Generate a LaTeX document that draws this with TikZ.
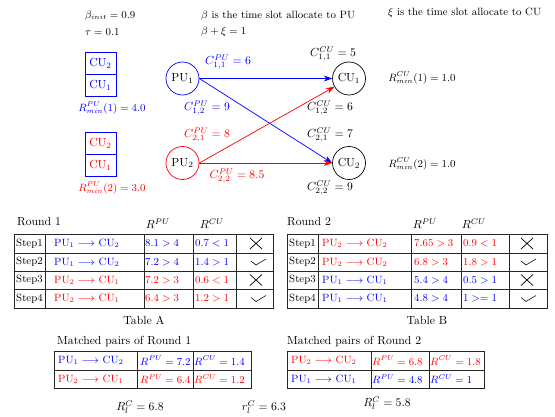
\documentclass[tikz,border=0pt]{standalone}
\usepackage{amsmath,amssymb}
\usetikzlibrary{arrows.meta}
\begin{document}
\begin{tikzpicture}[x=0.03cm,y=-0.03cm,
    txt/.style={inner sep=0pt,font=\small},
    cell/.style={inner sep=0pt,anchor=west,font=\small},
    user/.style={circle,draw,line width=0.6pt,minimum size=33*0.03cm,inner sep=0pt},
    slot/.style={draw=blue,line width=0.6pt,minimum width=31*0.03cm,minimum height=22*0.03cm,inner sep=0pt},
    link/.style={line width=0.6pt,-{Stealth[length=2.5mm,width=1.8mm]}},
    grid/.style={draw=black!85,line width=0.8pt}]
    \useasboundingbox (0,0) rectangle (555,417);
    % parameters
    \node[txt,anchor=west] (binit) at (85,16) {$\beta_{init}=0.9$};
    \node[txt,anchor=west] (tau) at (85,32) {$\tau=0.1$};
    \node[txt,anchor=west] (betapu) at (201,16) {$\beta$ is the time slot allocate to PU};
    \node[txt,anchor=west] (betaxi) at (201,32) {$\beta+\xi=1$};
    \node[txt,anchor=west] (xicu) at (388,13) {$\xi$ is the time slot allocate to CU};
    % slot stacks
    \node[slot,text=blue] (s1top) at (100.5,63) {CU$_2$};
    \node[slot,text=blue] (s1bot) at (100.5,85) {CU$_1$};
    \node[txt,text=blue] (rmin1) at (112,108) {$R^{PU}_{min}(1)=4.0$};
    \node[slot,text=red] (s2top) at (100.5,143.5) {CU$_2$};
    \node[slot,text=red] (s2bot) at (100.5,165) {CU$_1$};
    \node[txt,text=red] (rmin2) at (112,188) {$R^{PU}_{min}(2)=3.0$};
    % users
    \node[user,draw=blue] (pu1) at (182.5,78.5) {PU$_1$};
    \node[user,draw=red] (pu2) at (182.5,163) {PU$_2$};
    \node[user] (cu1) at (349,78.5) {CU$_1$};
    \node[user] (cu2) at (349,163) {CU$_2$};
    \draw[link,blue] (pu1) -- (cu1);
    \draw[link,blue] (pu1.east) -- (cu2.west);
    \draw[link,red] (pu2.east) -- (cu1);
    \draw[link,red] (pu2) -- (cu2);
    \node[inner sep=0pt,text=blue] (c11) at (228,62) {$C^{PU}_{1,1}=6$};
    \node[inner sep=0pt,text=blue] (c12) at (207,108) {$C^{PU}_{1,2}=9$};
    \node[inner sep=0pt,text=red] (c21) at (207,135) {$C^{PU}_{2,1}=8$};
    \node[inner sep=0pt,text=red] (c22) at (237,176) {$C^{PU}_{2,2}=8.5$};
    \node[inner sep=0pt] (d11) at (333,54) {$C^{CU}_{1,1}=5$};
    \node[inner sep=0pt] (d12) at (330,108) {$C^{CU}_{1,2}=6$};
    \node[inner sep=0pt] (d21) at (330,135) {$C^{CU}_{2,1}=7$};
    \node[inner sep=0pt] (d22) at (330,188) {$C^{CU}_{2,2}=9$};
    \node[txt] (rcu1) at (422,78) {$R^{CU}_{min}(1)=1.0$};
    \node[txt] (rcu2) at (422,164) {$R^{CU}_{min}(2)=1.0$};
    % table A
    \node[txt,anchor=west,font=\normalsize] (round1) at (17,222) {Round 1};
    \node[inner sep=0pt] (hpa) at (158,224) {$R^{PU}$};
    \node[inner sep=0pt] (hca) at (212,224) {$R^{CU}$};
    \draw[grid] (14,234) rectangle (273,308);
    \draw[grid] (14,253) -- (273,253) (14,271) -- (273,271) (14,289) -- (273,289);
    \draw[grid] (45,234) -- (45,308) (144,234) -- (144,308) (193,234) -- (193,308) (236,234) -- (236,308);
    \node[cell] (a1) at (16,243.5) {Step1};
    \node[cell] (a2) at (16,262) {Step2};
    \node[cell] (a3) at (16,280) {Step3};
    \node[cell] (a4) at (16,298.5) {Step4};
    \node[cell,text=blue] (ap1) at (54,243.5) {PU$_1\longrightarrow$ CU$_2$};
    \node[cell,text=blue] (ap2) at (54,262) {PU$_1\longrightarrow$ CU$_2$};
    \node[cell,text=red] (ap3) at (54,280) {PU$_2\longrightarrow$ CU$_1$};
    \node[cell,text=red] (ap4) at (54,298.5) {PU$_2\longrightarrow$ CU$_1$};
    \node[cell,text=blue] (av1) at (145,243.5) {$8.1>4$};
    \node[cell,text=blue] (av2) at (145,262) {$7.2>4$};
    \node[cell,text=red] (av3) at (145,280) {$7.2>3$};
    \node[cell,text=red] (av4) at (145,298.5) {$6.4>3$};
    \node[cell,text=blue] (aw1) at (195,243.5) {$0.7<1$};
    \node[cell,text=blue] (aw2) at (195,262) {$1.4>1$};
    \node[cell,text=red] (aw3) at (195,280) {$0.6<1$};
    \node[cell,text=red] (aw4) at (195,298.5) {$1.2>1$};
    \draw[line width=0.6pt] (250,238) -- (262,249) (250,249) -- (262,238);
    \draw[line width=0.5pt] (251,261) .. controls (253,263.5) .. (256,265) -- (266,259);
    \draw[line width=0.6pt] (250,274.5) -- (262,285.5) (250,285.5) -- (262,274.5);
    \draw[line width=0.5pt] (251,297.5) .. controls (253,300) .. (256,301.5) -- (266,295.5);
    \node[txt,font=\normalsize] (taba) at (144,320) {Table A};
    % table B
    \node[txt,anchor=west,font=\normalsize] (round2) at (287,222) {Round 2};
    \node[inner sep=0pt] (hpb) at (425,224) {$R^{PU}$};
    \node[inner sep=0pt] (hcb) at (474,224) {$R^{CU}$};
    \draw[grid] (287,234) rectangle (547,308);
    \draw[grid] (287,253) -- (547,253) (287,271) -- (547,271) (287,289) -- (547,289);
    \draw[grid] (318,234) -- (318,308) (411,234) -- (411,308) (461,234) -- (461,308) (509,234) -- (509,308);
    \node[cell] (b1) at (289,243.5) {Step1};
    \node[cell] (b2) at (289,262) {Step2};
    \node[cell] (b3) at (289,280) {Step3};
    \node[cell] (b4) at (289,298.5) {Step4};
    \node[cell,text=red] (bp1) at (322,243.5) {PU$_2\longrightarrow$ CU$_2$};
    \node[cell,text=red] (bp2) at (322,262) {PU$_2\longrightarrow$ CU$_2$};
    \node[cell,text=blue] (bp3) at (322,280) {PU$_1\longrightarrow$ CU$_1$};
    \node[cell,text=blue] (bp4) at (322,298.5) {PU$_1\longrightarrow$ CU$_1$};
    \node[cell,text=red] (bv1) at (414,243.5) {$7.65>3$};
    \node[cell,text=red] (bv2) at (414,262) {$6.8>3$};
    \node[cell,text=blue] (bv3) at (414,280) {$5.4>4$};
    \node[cell,text=blue] (bv4) at (414,298.5) {$4.8>4$};
    \node[cell,text=red] (bw1) at (463,243.5) {$0.9<1$};
    \node[cell,text=red] (bw2) at (463,262) {$1.8>1$};
    \node[cell,text=blue] (bw3) at (463,280) {$0.5>1$};
    \node[cell,text=blue] (bw4) at (463,298.5) {$1>=1$};
    \draw[line width=0.6pt] (521,238) -- (533,249) (521,249) -- (533,238);
    \draw[line width=0.5pt] (521,261) .. controls (523,263.5) .. (526,265) -- (536,259);
    \draw[line width=0.6pt] (521,274.5) -- (533,285.5) (521,285.5) -- (533,274.5);
    \draw[line width=0.5pt] (521,297.5) .. controls (523,300) .. (526,301.5) -- (536,295.5);
    \node[txt,font=\normalsize] (tabb) at (427,320) {Table B};
    % matched pairs
    \node[txt,anchor=west,font=\normalsize] (match1) at (57,342) {Matched pairs of Round 1};
    \draw[grid] (54,351) rectangle (251,388);
    \draw[grid] (54,370) -- (251,370) (137,351) -- (137,388) (193,351) -- (193,388);
    \node[cell,text=blue] (m1p) at (58,360.5) {PU$_1\longrightarrow$ CU$_2$};
    \node[cell,text=blue] (m1r) at (140,360.5) {$R^{PU}=7.2$};
    \node[cell,text=blue] (m1c) at (194,360.5) {$R^{CU}=1.4$};
    \node[cell,text=red] (m2p) at (58,379) {PU$_2\longrightarrow$ CU$_1$};
    \node[cell,text=red] (m2r) at (140,379) {$R^{PU}=6.4$};
    \node[cell,text=red] (m2c) at (194,379) {$R^{CU}=1.2$};
    \node[txt,anchor=west,font=\normalsize] (match2) at (287,342) {Matched pairs of Round 2};
    \draw[grid] (287,351) rectangle (484,388);
    \draw[grid] (287,370) -- (484,370) (371,351) -- (371,388) (429,351) -- (429,388);
    \node[cell,text=red] (n1p) at (291,360.5) {PU$_2\longrightarrow$ CU$_2$};
    \node[cell,text=red] (n1r) at (372,360.5) {$R^{PU}=6.8$};
    \node[cell,text=red] (n1c) at (430,360.5) {$R^{CU}=1.8$};
    \node[cell,text=blue] (n2p) at (291,379) {PU$_1\longrightarrow$ CU$_1$};
    \node[cell,text=blue] (n2r) at (372,379) {$R^{PU}=4.8$};
    \node[cell,text=blue] (n2c) at (430,379) {$R^{CU}=1$};
    % results
    \node[inner sep=0pt] (res1) at (140,407) {$R^{C}_{l}=6.8$};
    \node[inner sep=0pt] (res0) at (264,407) {$r^{C}_{l}=6.3$};
    \node[inner sep=0pt] (res2) at (387,403) {$R^{C}_{l}=5.8$};
\end{tikzpicture}
\end{document}
